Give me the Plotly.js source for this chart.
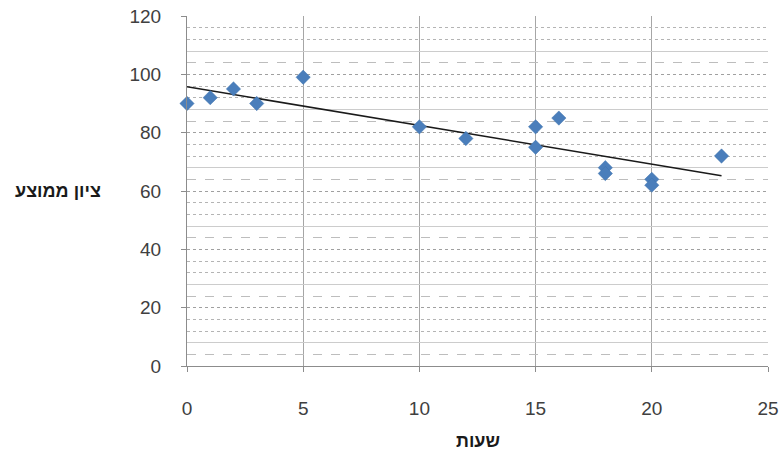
<!DOCTYPE html>
<html>
<head>
<meta charset="utf-8">
<script src="https://cdn.plot.ly/plotly-3.0.1.min.js"></script>
<style>html,body{margin:0;padding:0;background:#fff;}#chart{width:780px;height:457px;}</style>
</head>
<body>
<div id="chart"></div>
<script>
// Data
var hours  = [0, 1, 2, 3, 5, 10, 12, 15, 15, 16, 18, 18, 20, 20, 23];
var scores = [90, 92, 95, 90, 99, 82, 78, 82, 75, 85, 68, 66, 64, 62, 72];
var xTicks = [0, 5, 10, 15, 20, 25];
var yTicks = [0, 20, 40, 60, 80, 100, 120];
var xTitle = 'שעות';
var yTitle = 'ציון ממוצע';

// Least-squares linear trendline (as the spreadsheet's trendline)
var n = hours.length, sx = 0, sy = 0, sxy = 0, sxx = 0;
for (var i = 0; i < n; i++) { sx += hours[i]; sy += scores[i]; sxy += hours[i]*scores[i]; sxx += hours[i]*hours[i]; }
var slope = (n*sxy - sx*sy) / (n*sxx - sx*sx);
var icpt = (sy - slope*sx) / n;
var xMin = Math.min.apply(null, hours), xMax = Math.max.apply(null, hours);
var trendX = [xMin, xMax];
var trendY = trendX.map(function (x) { return icpt + slope*x; });

// Minor gridline groups inside each 20-unit band
var minorDot = [], minorSolid = [], minorDash = [];
for (var b = 0; b < 120; b += 20) {
  minorDash.push(b + 4); minorSolid.push(b + 8); minorDot.push(b + 12, b + 16);
}

var yRange = [0, 120];
var font = 'Liberation Sans, Arial, sans-serif';

var traces = [
  { x: [null], y: [null], yaxis: 'y2', type: 'scatter', showlegend: false, hoverinfo: 'skip' },
  { x: [null], y: [null], yaxis: 'y3', type: 'scatter', showlegend: false, hoverinfo: 'skip' },
  { x: [null], y: [null], yaxis: 'y4', type: 'scatter', showlegend: false, hoverinfo: 'skip' },
  { x: trendX, y: trendY, mode: 'lines', type: 'scatter',
    line: { color: '#1a1a1a', width: 1.6 }, showlegend: false, hoverinfo: 'skip' },
  { x: hours, y: scores, mode: 'markers', type: 'scatter', cliponaxis: false,
    marker: { symbol: 'diamond', size: 11, color: '#4a7ebb', line: { width: 0.5, color: '#3f72ad' } },
    showlegend: false, hoverinfo: 'x+y' }
];

function overlay(vals, dash, color) {
  return { overlaying: 'y', range: yRange, tickmode: 'array', tickvals: vals,
    showticklabels: false, ticks: '', showgrid: true, gridcolor: color, griddash: dash,
    gridwidth: 1, zeroline: false, showline: false, fixedrange: true };
}

var layout = {
  width: 780, height: 457,
  margin: { l: 187, r: 12, t: 16, b: 91 },
  paper_bgcolor: '#ffffff', plot_bgcolor: '#ffffff',
  font: { family: font, size: 19, color: '#404040' },
  showlegend: false,
  xaxis: {
    range: [0, 25], tickmode: 'array', tickvals: xTicks,
    showgrid: true, gridcolor: '#a6a6a6', gridwidth: 1.2,
    zeroline: false, showline: true, linecolor: '#8c8c8c', linewidth: 1,
    ticks: 'outside', ticklen: 5, tickcolor: '#8c8c8c',
    ticklabelstandoff: 20, tickfont: { family: font, size: 19, color: '#404040' }
  },
  yaxis: {
    range: yRange, tickmode: 'array', tickvals: yTicks,
    showgrid: true, gridcolor: '#a0a0a0', griddash: 'dot', gridwidth: 1,
    zeroline: false, showline: true, linecolor: '#8c8c8c', linewidth: 1,
    ticks: 'outside', ticklen: 5, tickcolor: '#8c8c8c',
    ticklabelstandoff: 16, tickfont: { family: font, size: 19, color: '#404040' }
  },
  yaxis2: overlay(minorDot, 'dot', '#b4b4b4'),
  yaxis3: overlay(minorSolid, 'solid', '#cccccc'),
  yaxis4: overlay(minorDash, 'dash', '#bdbdbd'),
  annotations: [
    { text: '<b>' + yTitle + '</b>', xref: 'paper', yref: 'paper', x: -0.222, y: 0.5,
      xanchor: 'center', yanchor: 'middle', showarrow: false,
      font: { family: font, size: 18, color: '#1a1a1a' } },
    { text: '<b>' + xTitle + '</b>', xref: 'paper', yref: 'paper', x: 0.5, y: -0.214,
      xanchor: 'center', yanchor: 'middle', showarrow: false,
      font: { family: font, size: 18, color: '#1a1a1a' } }
  ]
};

Plotly.newPlot('chart', traces, layout, { displayModeBar: false, staticPlot: true });
</script>
</body>
</html>
